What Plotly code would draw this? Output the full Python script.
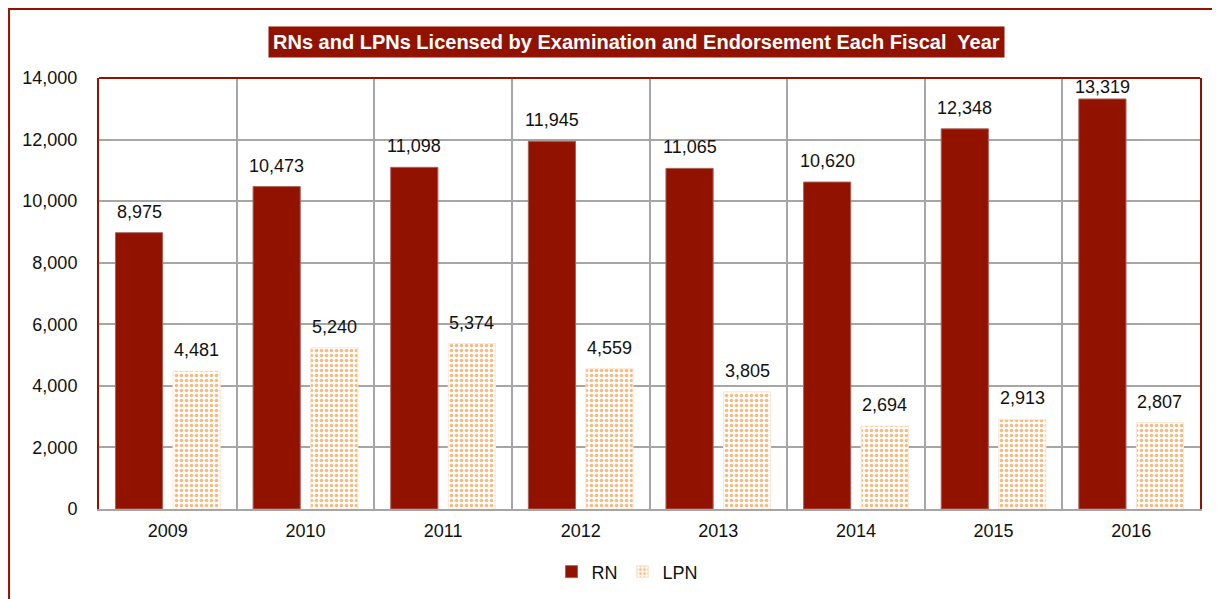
import plotly.graph_objects as go

years = ["2009", "2010", "2011", "2012", "2013", "2014", "2015", "2016"]
rn = [8975, 10473, 11098, 11945, 11065, 10620, 12348, 13319]
lpn = [4481, 5240, 5374, 4559, 3805, 2694, 2913, 2807]

dark_red = "#921200"
orange = "#f07400"
font_name = "Liberation Sans, Arial, sans-serif"
ymax = 14000
plot_h = 431

fig = go.Figure()
fig.add_trace(go.Bar(
    x=years, y=rn, name="RN",
    marker=dict(color=dark_red, line=dict(color="#a8645a", width=1)),
))
fig.add_trace(go.Bar(
    x=years, y=lpn, name="LPN",
    marker=dict(color="white", line=dict(color="#fde8d4", width=1),
                pattern=dict(shape=".", fgcolor=orange, bgcolor="white",
                             size=5, solidity=0.4)),
))

# value labels above the bars (category axis -> use the category index)
labels = []
for series, shift in [(rn, -28.75), (lpn, 28.75)]:
    for i, v in enumerate(series):
        room = (ymax - v) * plot_h / ymax - 21  # keep labels inside the plot
        labels.append(dict(x=i, y=v, text=f"{v:,}", xref="x", yref="y",
                           xshift=shift, yshift=max(0, min(9, room)), yanchor="bottom",
                           showarrow=False, font=dict(size=18, color="#111111")))

labels.append(dict(
    text="<b>RNs and LPNs Licensed by Examination and Endorsement Each Fiscal  Year</b>",
    xref="paper", yref="paper", x=0.4886, y=1.0835, xanchor="center", yanchor="middle",
    showarrow=False, bgcolor=dark_red, font=dict(color="white", size=20, family=font_name),
    borderpad=4,
))

# page body adds an 8px offset, margins compensate for it
fig.update_layout(
    width=1220, height=599,
    margin=dict(l=91, r=28, t=70, b=98, autoexpand=False),
    paper_bgcolor="white", plot_bgcolor="white",
    font=dict(family=font_name, size=18, color="#111111"),
    barmode="group", bargap=0.164, bargroupgap=0.18,
    showlegend=True,
    legend=dict(orientation="h", x=0.48, xanchor="center", y=-0.146, yanchor="middle",
                font=dict(size=18), itemwidth=30),
    xaxis=dict(type="category", tickson="boundaries", showgrid=True,
               gridcolor="#a6a6a6", gridwidth=1.5, ticks="",
               showline=True, linecolor="#a6a6a6", linewidth=2,
               tickfont=dict(size=18), ticklabelstandoff=4, tickangle=0),
    yaxis=dict(range=[0, ymax], dtick=2000, tickformat=",",
               showgrid=True, gridcolor="#a6a6a6", gridwidth=1.5,
               showline=True, linecolor=dark_red, linewidth=2, mirror=True,
               zeroline=False, ticks="", tickfont=dict(size=18),
               ticklabelstandoff=16),
    shapes=[
        dict(type="line", xref="paper", yref="paper", x0=0, x1=1, y0=1, y1=1,
             line=dict(color=dark_red, width=2)),
        dict(type="rect", xref="paper", yref="paper", x0=-0.0817, x1=1.2,
             y0=-0.4, y1=1.160, line=dict(color=dark_red, width=2), layer="below"),
    ],
    annotations=labels,
)

fig.write_html("out.html")
